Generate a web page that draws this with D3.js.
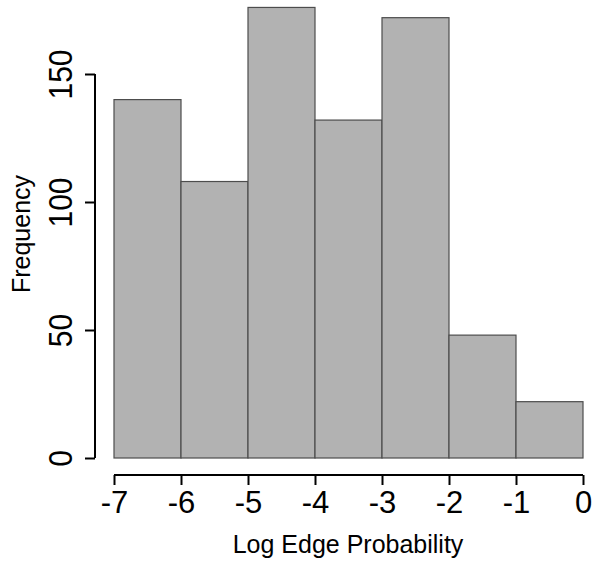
<!DOCTYPE html>
<html>
<head>
<meta charset="utf-8">
<script src="https://cdn.jsdelivr.net/npm/d3@7"></script>
<style>
  body { margin: 0; background: #fff; }
  text { font-family: "Liberation Sans", Arial, sans-serif; fill: #000; }
</style>
</head>
<body>
<div id="chart"></div>
<script>
// histogram bins (left edge) and counts
const binStarts = [-7, -6, -5, -4, -3, -2, -1];
const counts = [140, 108, 176, 132, 172, 48, 22];
const xTicks = [-7, -6, -5, -4, -3, -2, -1, 0];
const yTicks = [0, 50, 100, 150];

const W = 595, H = 565;

const svg = d3.select("#chart")
  .append("svg")
    .attr("width", W)
    .attr("height", H);

// scales
const x = d3.scaleLinear().domain([-7, 0]).range([114, 583]);
const y = d3.scaleLinear().domain([0, 150]).range([458, 74]);

// bars
svg.append("g")
  .selectAll("rect")
  .data(binStarts)
  .enter().append("rect")
    .attr("x", d => x(d))
    .attr("width", d => x(d + 1) - x(d))
    .attr("y", (d, i) => y(counts[i]))
    .attr("height", (d, i) => y(0) - y(counts[i]))
    .attr("fill", "#b2b2b2")
    .attr("stroke", "#4d4d4d")
    .attr("stroke-width", 1.2);

// x axis
const xAxis = svg.append("g")
  .attr("transform", "translate(0,475)")
  .call(d3.axisBottom(x).tickValues(xTicks).tickSize(10).tickFormat(d3.format("d")));
xAxis.select(".domain").attr("stroke-width", 2).attr("d", `M${x(-7)},0H${x(0)}`);
xAxis.selectAll(".tick line").attr("stroke-width", 2);
xAxis.selectAll(".tick text")
  .style("font-size", "31px")
  .style("font-family", "'Liberation Sans', Arial, sans-serif")
  .attr("y", 38).attr("dy", 0)
  .text(d => d < 0 ? "-" + Math.abs(d) : d);

// y axis
const yAxis = svg.append("g")
  .attr("transform", "translate(95,0)")
  .call(d3.axisLeft(y).tickValues(yTicks).tickSize(10).tickFormat(d3.format("d")));
yAxis.select(".domain").attr("stroke-width", 2).attr("d", `M0,${y(0)}V${y(150)}`);
yAxis.selectAll(".tick line").attr("stroke-width", 2);
yAxis.selectAll(".tick text")
  .style("font-size", "30px")
  .style("font-family", "'Liberation Sans', Arial, sans-serif")
  .attr("x", 0).attr("dy", 0)
  .attr("text-anchor", "middle")
  .attr("transform", "translate(-23,0) scale(1.1,1) rotate(-90)");

// axis titles
svg.append("text")
  .attr("x", 348)
  .attr("y", 553)
  .attr("text-anchor", "middle")
  .style("font-size", "25px")
  .text("Log Edge Probability");

svg.append("text")
  .attr("transform", "translate(30,234) rotate(-90)")
  .attr("text-anchor", "middle")
  .style("font-size", "25px")
  .text("Frequency");
</script>
</body>
</html>
